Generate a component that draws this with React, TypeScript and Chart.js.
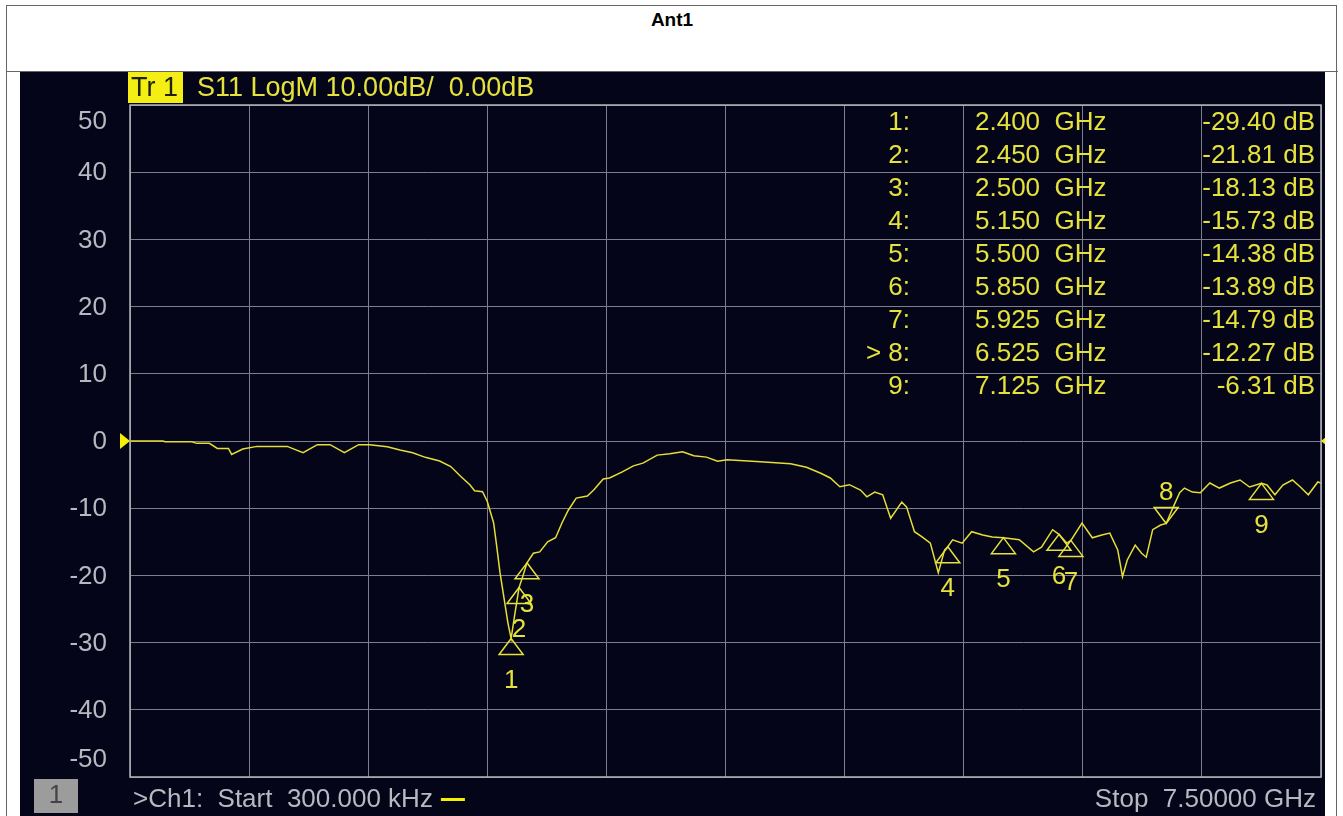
import React, { useEffect, useRef } from "react";
import { Chart, registerables } from "chart.js";

Chart.register(...registerables);

// Trace: S11 magnitude (dB) vs frequency (GHz)
const traceFreqGHz = [
  0.0003, 0.208, 0.22, 0.39, 0.42, 0.5, 0.55, 0.62, 0.64, 0.71,
  0.8, 0.99, 1.09, 1.18, 1.26, 1.35, 1.44, 1.51, 1.62, 1.7,
  1.78, 1.86, 1.95, 2.02, 2.08, 2.14, 2.17, 2.22, 2.25, 2.29,
  2.31, 2.33, 2.36, 2.38, 2.4, 2.425, 2.45, 2.475, 2.5, 2.54,
  2.58, 2.63, 2.68, 2.72, 2.76, 2.81, 2.88, 2.92, 2.98, 3.02,
  3.1, 3.17, 3.23, 3.32, 3.4, 3.48, 3.55, 3.63, 3.7, 3.76,
  3.97, 4.16, 4.26, 4.35, 4.41, 4.47, 4.53, 4.6, 4.64, 4.69,
  4.74, 4.79, 4.86, 4.89, 4.94, 4.99, 5.04, 5.09, 5.13, 5.15,
  5.18, 5.24, 5.3, 5.37, 5.43, 5.5, 5.6, 5.69, 5.74, 5.81,
  5.85, 5.9, 5.925, 5.995, 6.06, 6.12, 6.17, 6.22, 6.25, 6.28,
  6.33, 6.37, 6.4, 6.44, 6.49, 6.525, 6.57, 6.61, 6.64, 6.69,
  6.74, 6.8, 6.86, 6.93, 6.99, 7.05, 7.125, 7.16, 7.21, 7.26,
  7.32, 7.37, 7.42, 7.48, 7.5,
];
const traceDb = [
  0.0, 0.0, -0.1, -0.1, -0.35, -0.35, -1.1, -1.1, -2.0, -1.2,
  -0.8, -0.8, -1.74, -0.55, -0.55, -1.74, -0.55, -0.55, -0.85, -1.34,
  -1.74, -2.43, -2.98, -3.8, -5.2, -6.5, -7.4, -7.55, -9.0, -12.2,
  -15.8, -19.6, -24.1, -27.1, -29.4, -25.5, -21.81, -20.0, -18.13, -16.7,
  -16.5, -15.0, -14.4, -12.2, -10.3, -8.5, -8.2, -7.3, -5.65, -5.5,
  -4.6, -3.7, -3.3, -2.1, -1.9, -1.6, -2.2, -2.4, -3.0, -2.8,
  -3.1, -3.4, -3.9, -4.8, -5.5, -6.8, -6.5, -7.3, -8.3, -7.6,
  -8.0, -11.5, -9.1, -9.8, -13.5, -14.3, -15.2, -19.6, -16.2, -15.73,
  -14.7, -15.2, -13.5, -14.0, -14.3, -14.38, -14.7, -16.5, -15.8, -13.2,
  -13.89, -15.2, -14.79, -12.2, -14.4, -14.0, -13.7, -16.2, -20.2, -17.7,
  -15.5, -16.7, -17.3, -13.2, -12.5, -12.27, -9.8, -7.7, -7.0, -7.6,
  -7.7, -6.25, -7.0, -6.25, -5.8, -6.85, -6.31, -6.55, -8.0, -6.55,
  -5.8, -6.85, -8.0, -6.1, -6.25,
];

// Markers
const markerLabels = ["1", "2", "3", "4", "5", "6", "7", "8", "9"];
const markerFreqGHz = [2.4, 2.45, 2.5, 5.15, 5.5, 5.85, 5.925, 6.525, 7.125];
const markerDb = [-29.4, -21.81, -18.13, -15.73, -14.38, -13.89, -14.79, -12.27, -6.31];
const activeMarker = 7;

// Axis settings
const xMinGHz = 0;
const xMaxGHz = 7.5;
const xStepGHz = 0.75;
const yMinDb = -50;
const yMaxDb = 50;
const yStepDb = 10;

// Texts
const titleText = "Ant1";
const traceTag = "Tr 1";
const traceInfo = "S11 LogM 10.00dB/  0.00dB";
const channelText = ">Ch1:  Start  300.000 kHz";
const stopText = "Stop  7.50000 GHz";
const channelNo = "1";

const FONT = "'Liberation Sans', Arial, sans-serif";
const BG = "#05051a";
const YELLOW = "#e6e23c";
const GRAY_TEXT = "#b8b8c0";

const overlay = {
  id: "vnaOverlay",
  beforeDraw(chart: any) {
    const ctx = chart.ctx;
    ctx.save();
    ctx.fillStyle = BG;
    ctx.fillRect(0, 0, chart.width, chart.height);
    ctx.restore();
  },
  afterDraw(chart: any) {
    const ctx: CanvasRenderingContext2D = chart.ctx;
    const area = chart.chartArea;
    const xs = chart.scales.x;
    const ys = chart.scales.y;
    ctx.save();

    // frame
    ctx.strokeStyle = "#b4b4b8";
    ctx.lineWidth = 1.5;
    ctx.strokeRect(area.left, area.top, area.right - area.left, area.bottom - area.top);

    // y labels
    ctx.font = `26px ${FONT}`;
    ctx.fillStyle = GRAY_TEXT;
    ctx.textAlign = "right";
    ctx.textBaseline = "middle";
    ys.ticks.forEach((t: any) => {
      let py = ys.getPixelForValue(t.value);
      py = Math.max(area.top + 16, Math.min(area.bottom - 18, py));
      ctx.fillText(String(t.value), area.left - 23, py + 1);
    });

    // reference level arrows
    const y0 = ys.getPixelForValue(0);
    ctx.fillStyle = "#f4f000";
    ctx.beginPath();
    ctx.moveTo(area.left, y0);
    ctx.lineTo(area.left - 10, y0 - 8);
    ctx.lineTo(area.left - 10, y0 + 8);
    ctx.closePath();
    ctx.fill();
    ctx.beginPath();
    ctx.moveTo(area.right, y0);
    ctx.lineTo(area.right + 10, y0 - 8);
    ctx.lineTo(area.right + 10, y0 + 8);
    ctx.closePath();
    ctx.fill();

    // header
    ctx.fillStyle = "#f4ee14";
    ctx.fillRect(area.left - 2, 0, 55, 31);
    ctx.font = `27px ${FONT}`;
    ctx.textAlign = "left";
    ctx.fillStyle = "#202008";
    ctx.fillText(traceTag, area.left + 1, 17);
    ctx.fillStyle = YELLOW;
    ctx.fillText(traceInfo, area.left + 67, 17);

    // marker table
    ctx.font = `26px ${FONT}`;
    const rowTop = area.top + 18;
    const rowStep = 33;
    markerLabels.forEach((lab, i) => {
      const ry = rowTop + i * rowStep;
      ctx.fillStyle = YELLOW;
      ctx.textAlign = "right";
      ctx.fillText((i === activeMarker ? "> " : "") + lab + ":", 890, ry);
      ctx.textAlign = "left";
      ctx.fillText(markerFreqGHz[i].toFixed(3) + "  GHz", 955, ry);
      ctx.textAlign = "right";
      ctx.fillText(markerDb[i].toFixed(2) + " dB", 1295, ry);
    });

    // markers on trace
    ctx.strokeStyle = YELLOW;
    ctx.lineWidth = 1.5;
    ctx.font = `26px ${FONT}`;
    ctx.textAlign = "center";
    markerLabels.forEach((lab, i) => {
      const px = xs.getPixelForValue(markerFreqGHz[i]);
      const py = ys.getPixelForValue(markerDb[i]);
      const down = i === activeMarker;
      const h = 16;
      const w = 12;
      ctx.beginPath();
      if (down) {
        ctx.moveTo(px, py);
        ctx.lineTo(px - w, py - h);
        ctx.lineTo(px + w, py - h);
      } else {
        ctx.moveTo(px, py);
        ctx.lineTo(px - w, py + h);
        ctx.lineTo(px + w, py + h);
      }
      ctx.closePath();
      ctx.stroke();
      ctx.fillStyle = YELLOW;
      ctx.fillText(lab, px, down ? py - 31 : py + 42);
    });

    // bottom strip
    const by = area.bottom + 23;
    ctx.fillStyle = "#9c9c9c";
    ctx.fillRect(14, area.bottom + 2, 44, 34);
    ctx.fillStyle = "#444448";
    ctx.textAlign = "center";
    ctx.fillText(channelNo, 36, by - 4);
    ctx.textAlign = "left";
    ctx.fillStyle = GRAY_TEXT;
    ctx.fillText(channelText, area.left + 3, by);
    const tw = ctx.measureText(channelText).width;
    ctx.fillStyle = "#f4f000";
    ctx.fillRect(area.left + 3 + tw + 8, by - 2, 24, 3);
    ctx.fillStyle = GRAY_TEXT;
    ctx.textAlign = "right";
    ctx.fillText(stopText, area.right - 5, by);

    ctx.restore();
  },
};

export default function App() {
  const ref = useRef<HTMLCanvasElement | null>(null);

  useEffect(() => {
    if (!ref.current) return;
    const chart = new Chart(ref.current, {
      type: "line",
      data: {
        datasets: [
          {
            data: traceFreqGHz.map((f, i) => ({ x: f, y: traceDb[i] })),
            borderColor: "#e4de36",
            borderWidth: 1.5,
            pointRadius: 0,
            tension: 0,
            fill: false,
          },
        ],
      },
      options: {
        animation: false,
        responsive: false,
        devicePixelRatio: 1,
        layout: { padding: { left: 110, right: 4, top: 33, bottom: 39 } },
        plugins: { legend: { display: false }, tooltip: { enabled: false } },
        scales: {
          x: {
            type: "linear",
            min: xMinGHz,
            max: xMaxGHz,
            ticks: { display: false, stepSize: xStepGHz },
            grid: { color: "#7e7e8c", lineWidth: 1, drawTicks: false },
            border: { display: false },
          },
          y: {
            type: "linear",
            min: yMinDb,
            max: yMaxDb,
            ticks: { display: false, stepSize: yStepDb },
            grid: { color: "#7e7e8c", lineWidth: 1, drawTicks: false },
            border: { display: false },
          },
        },
      },
      plugins: [overlay],
    });
    return () => chart.destroy();
  }, []);

  return (
    <div
      style={{
        position: "absolute",
        left: 0,
        top: 0,
        width: 1343,
        height: 816,
        overflow: "hidden",
        background: "#ffffff",
      }}
    >
      <div
        style={{
          position: "absolute",
          left: 6,
          top: 5,
          width: 1331,
          height: 840,
          border: "1px solid #666",
          boxSizing: "border-box",
        }}
      />
      <div
        style={{
          position: "absolute",
          left: 6,
          top: 71,
          width: 1332,
          height: 1,
          background: "#666",
        }}
      />
      <div
        style={{
          position: "absolute",
          left: 6,
          top: 10,
          width: 1332,
          textAlign: "center",
          fontFamily: "'Liberation Sans', Arial, sans-serif",
          fontWeight: "bold",
          fontSize: 19,
          lineHeight: "20px",
          color: "#000",
        }}
      >
        {titleText}
      </div>
      <canvas
        ref={ref}
        width={1305}
        height={744}
        style={{ position: "absolute", left: 20, top: 72, width: 1305, height: 744 }}
      />
    </div>
  );
}
